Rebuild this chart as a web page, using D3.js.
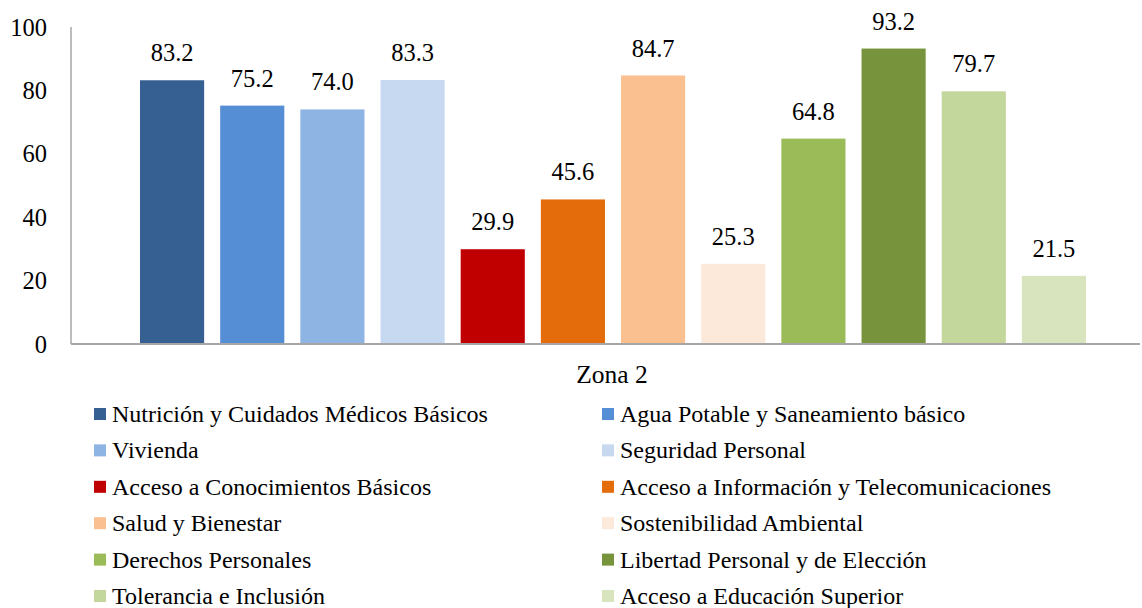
<!DOCTYPE html>
<html>
<head>
<meta charset="utf-8">
<script src="https://cdn.jsdelivr.net/npm/d3@7"></script>
<style>
  body { margin: 0; background: #fff; }
  svg text { font-family: 'Liberation Serif', 'Times New Roman', 'DejaVu Serif', serif; }
</style>
</head>
<body>
<svg id="chart" width="1142" height="608"></svg>
<script>
// data
const categories = [
  "Nutrición y Cuidados Médicos Básicos",
  "Agua Potable y Saneamiento básico",
  "Vivienda",
  "Seguridad Personal",
  "Acceso a Conocimientos Básicos",
  "Acceso a Información y Telecomunicaciones",
  "Salud y Bienestar",
  "Sostenibilidad Ambiental",
  "Derechos Personales",
  "Libertad Personal y de Elección",
  "Tolerancia e Inclusión",
  "Acceso a Educación Superior"
];
const values = [83.2, 75.2, 74.0, 83.3, 29.9, 45.6, 84.7, 25.3, 64.8, 93.2, 79.7, 21.5];
const yTicks = [0, 20, 40, 60, 80, 100];
const groupLabel = "Zona 2";

const colors = ["#376092", "#558ed5", "#8eb4e3", "#c6d9f1", "#c00000", "#e46c0a",
                "#fac090", "#fde9d9", "#9bbb59", "#77933c", "#c3d69b", "#d7e4bd"];

const fontFamily = "Liberation Serif, Times New Roman, DejaVu Serif, serif";
const svg = d3.select("#chart").attr("font-family", fontFamily);
const axisColor = "#a6a6a6";

const y = d3.scaleLinear().domain([0, 100]).range([344, 27]);
const x = d3.scaleBand()
    .domain(categories)
    .range([140, 1086])
    .paddingInner(0.2)
    .paddingOuter(0);
const color = d3.scaleOrdinal().domain(categories).range(colors);

// y axis tick labels
svg.append("g").selectAll("text")
  .data(yTicks)
  .join("text")
    .attr("x", 47)
    .attr("y", d => y(d))
    .attr("dy", "0.35em")
    .attr("text-anchor", "end")
    .attr("font-size", 24.5)
    .attr("fill", "#000")
    .text(d => d);

// bars
svg.append("g").selectAll("rect")
  .data(values)
  .join("rect")
    .attr("x", (d, i) => x(categories[i]))
    .attr("y", d => y(d))
    .attr("width", x.bandwidth())
    .attr("height", d => y(0) - y(d))
    .attr("fill", (d, i) => color(categories[i]));

// value labels
svg.append("g").selectAll("text")
  .data(values)
  .join("text")
    .attr("x", (d, i) => x(categories[i]) + x.bandwidth() / 2)
    .attr("y", d => y(d) - 19)
    .attr("text-anchor", "middle")
    .attr("font-size", 24.5)
    .attr("fill", "#000")
    .text(d => d.toFixed(1));

// axis lines
svg.append("line")
    .attr("x1", 71).attr("x2", 71)
    .attr("y1", y(100)).attr("y2", y(0))
    .attr("stroke", axisColor).attr("stroke-width", 1.5);
svg.append("line")
    .attr("x1", 71).attr("x2", 1140)
    .attr("y1", y(0)).attr("y2", y(0))
    .attr("stroke", axisColor).attr("stroke-width", 2);

// category label
svg.append("text")
    .attr("x", 612)
    .attr("y", 383)
    .attr("text-anchor", "middle")
    .attr("font-size", 25.5)
    .attr("fill", "#000")
    .text(groupLabel);

// legend, two columns
const legend = svg.append("g").selectAll("g")
  .data(categories)
  .join("g")
    .attr("transform", (d, i) => {
      const col = i % 2, row = Math.floor(i / 2);
      return "translate(" + (col ? 602 : 94) + "," + (414 + row * 36.4) + ")";
    });

legend.append("rect")
    .attr("x", 0).attr("y", -6)
    .attr("width", 12).attr("height", 12)
    .attr("fill", d => color(d));

legend.append("text")
    .attr("x", 18)
    .attr("y", 8)
    .attr("font-size", 24)
    .attr("fill", "#000")
    .text(d => d);
</script>
</body>
</html>
